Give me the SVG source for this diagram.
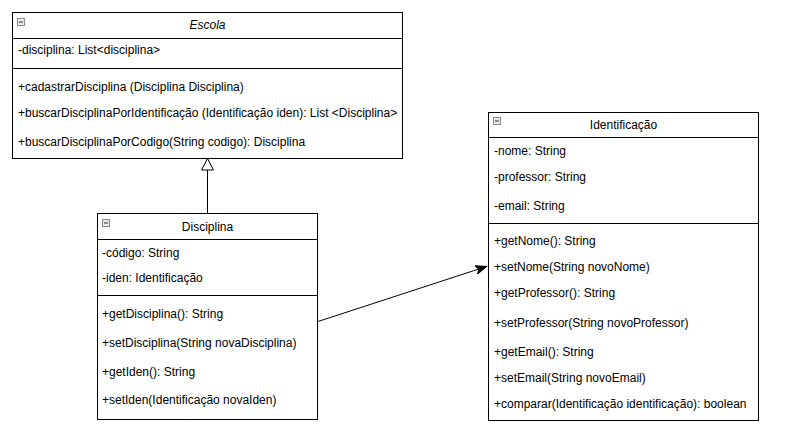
<svg xmlns="http://www.w3.org/2000/svg" width="785" height="443" viewBox="0 0 785 443">
<style>
.box{fill:#fff;stroke:#000;stroke-width:1}
.sep{stroke:#000;stroke-width:1}
text{font-family:"Liberation Sans",Arial,sans-serif;font-size:12px;fill:#000}
.title{text-anchor:middle}
.ico{fill:#e8e8e8;stroke:#8a8a8a;stroke-width:1}
.icol{stroke:#333;stroke-width:1}
.conn{stroke:#000;stroke-width:1;fill:none}
</style>
<defs>
<marker id="open" markerWidth="14" markerHeight="14" refX="13" refY="7" orient="auto" markerUnits="userSpaceOnUse">
<path d="M1,1 L13,7 L1,13 Z" fill="#fff" stroke="#000" stroke-width="1"/>
</marker>
<marker id="block" markerWidth="12" markerHeight="10" refX="11" refY="5" orient="auto" markerUnits="userSpaceOnUse">
<path d="M0,0.5 L11,5 L0,9.5 L3,5 Z" fill="#000" stroke="#000" stroke-width="1"/>
</marker>
</defs>
<rect width="785" height="443" fill="#fff"/>
<g id="connectors">
<path class="conn" d="M207.5,213 L207.5,170"/>
<path d="M207.5,158.5 L201.5,170 L213.5,170 Z" fill="#fff" stroke="#000" stroke-width="1"/>
<path class="conn" d="M318,321.5 L486.5,266.5" marker-end="url(#block)"/>
</g>
<g id="escola">
<rect class="box" x="12.5" y="12.5" width="390" height="146"/>
<line class="sep" x1="12.5" y1="38.5" x2="402.5" y2="38.5"/>
<line class="sep" x1="12.5" y1="68.5" x2="402.5" y2="68.5"/>
<rect class="ico" x="17.5" y="18.5" width="7" height="7"/>
<line class="icol" x1="19" y1="22" x2="23" y2="22"/>
<text class="title" x="207.5" y="29" font-style="italic">Escola</text>
<text x="18" y="54">-disciplina: List&lt;disciplina&gt;</text>
<text x="18" y="91">+cadastrarDisciplina (Disciplina Disciplina)</text>
<text x="18" y="117">+buscarDisciplinaPorIdentificação (Identificação iden): List &lt;Disciplina&gt;</text>
<text x="18" y="146">+buscarDisciplinaPorCodigo(String codigo): Disciplina</text>
</g>
<g id="disciplina">
<rect class="box" x="97.5" y="213.5" width="220" height="206"/>
<line class="sep" x1="97.5" y1="239.5" x2="317.5" y2="239.5"/>
<line class="sep" x1="97.5" y1="295.5" x2="317.5" y2="295.5"/>
<rect class="ico" x="102.5" y="219.5" width="7" height="7"/>
<line class="icol" x1="104" y1="223" x2="108" y2="223"/>
<text class="title" x="207.5" y="231">Disciplina</text>
<text x="102" y="257">-código: String</text>
<text x="102" y="282">-iden: Identificação</text>
<text x="102" y="318">+getDisciplina(): String</text>
<text x="102" y="347">+setDisciplina(String novaDisciplina)</text>
<text x="102" y="376">+getIden(): String</text>
<text x="102" y="404">+setIden(Identificação novaIden)</text>
</g>
<g id="identificacao">
<rect class="box" x="488.5" y="112.5" width="270" height="308"/>
<line class="sep" x1="488.5" y1="137.5" x2="758.5" y2="137.5"/>
<line class="sep" x1="488.5" y1="223.5" x2="758.5" y2="223.5"/>
<rect class="ico" x="493.5" y="117.5" width="7" height="7"/>
<line class="icol" x1="495" y1="121" x2="499" y2="121"/>
<text class="title" x="623.5" y="129">Identificação</text>
<text x="494" y="155">-nome: String</text>
<text x="494" y="181">-professor: String</text>
<text x="494" y="210">-email: String</text>
<text x="494" y="245">+getNome(): String</text>
<text x="494" y="271">+setNome(String novoNome)</text>
<text x="494" y="297">+getProfessor(): String</text>
<text x="494" y="327">+setProfessor(String novoProfessor)</text>
<text x="494" y="356">+getEmail(): String</text>
<text x="494" y="382">+setEmail(String novoEmail)</text>
<text x="494" y="408">+comparar(Identificação identificação): boolean</text>
</g>
</svg>
